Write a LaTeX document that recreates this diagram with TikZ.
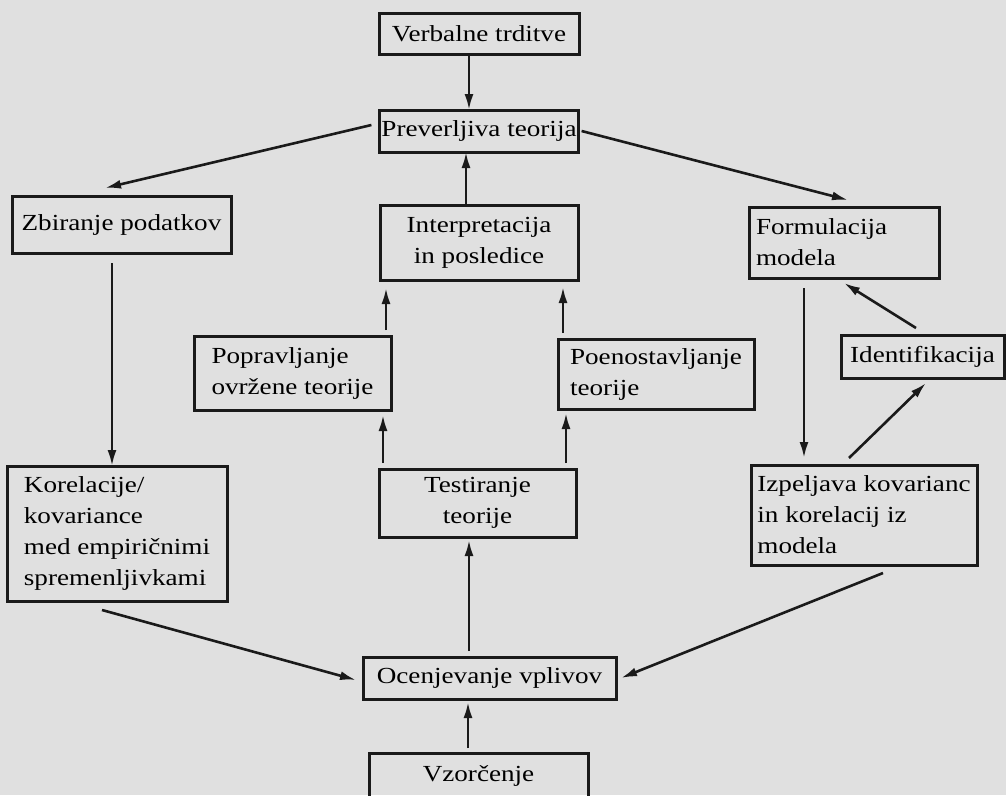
\documentclass[tikz,border=0pt]{standalone}
\usepackage{fontspec}
\setmainfont{Liberation Serif}[FakeStretch=1.18]
\usetikzlibrary{arrows.meta,positioning}
\definecolor{paper}{HTML}{E0E0E0}
\definecolor{ink}{HTML}{1A1A1A}
\tikzset{
  box/.style={draw=ink,line width=3pt,align=left,font=\fontsize{23}{31}\selectfont,
    inner xsep=2pt,inner ysep=3pt,outer sep=0pt},
  cbox/.style={box,align=center},
  arrow/.style={-{Latex[length=16pt,width=9pt]},draw=ink,line width=2.6pt}
}

\begin{document}
\begin{tikzpicture}[x=1pt,y=-1pt]
  \clip (0,0) rectangle (1006,795);
  \fill[paper] (0,0) rectangle (1006,795);
  \node[cbox,minimum width=200pt,minimum height=41pt] (verb) at (479,33.5) {Verbalne trditve};
  \node[cbox,minimum width=198pt,minimum height=42pt] (prev) at (479,131) {Preverljiva teorija};
  \node[cbox,minimum width=219pt,minimum height=57pt] (zbir) at (121.5,224.5) {Zbiranje podatkov};
  \node[cbox,minimum width=198pt,minimum height=75pt] (interp) at (479,242.5) {Interpretacija\\in posledice};
  \node[box,text width=176pt,inner xsep=7pt,minimum height=71pt] (form) at (844,242.5) {Formulacija\\modela};
  \node[box,minimum width=197pt,minimum height=74pt] (poprav) at (292.5,373) {Popravljanje\\ovržene teorije};
  \node[box,minimum width=196pt,minimum height=70pt] (poenos) at (656,374) {Poenostavljanje\\teorije};
  \node[cbox,minimum width=163pt,minimum height=43pt] (ident) at (922.5,356.5) {Identifikacija};
  \node[box,minimum width=220pt,minimum height=135pt] (korel) at (117,533.5) {Korelacije/\\kovariance\\med empiričnimi\\spremenljivkami};
  \node[cbox,minimum width=197pt,minimum height=68pt] (test) at (477.5,503) {Testiranje\\teorije};
  \node[box,minimum width=226pt,minimum height=100pt] (izpel) at (864,515) {Izpeljava kovarianc\\in korelacij iz\\modela};
  \node[cbox,minimum width=253pt,minimum height=42pt] (ocen) at (489.5,678) {Ocenjevanje vplivov};
  \node[cbox,minimum width=219pt,anchor=north,inner ysep=12pt,text depth=30pt] (vzor) at (478.5,753) {Vzorčenje};

  \draw[arrow] ([xshift=-10pt]verb.south) -- ([xshift=-10pt]prev.north);
  \draw[arrow] ([xshift=-13pt]interp.north) -- ([xshift=-13pt]prev.south);
  \draw[arrow] ([xshift=-8pt,yshift=6pt]prev.west) -- ([xshift=-16.5pt,yshift=8pt]zbir.north);
  \draw[arrow] ([xshift=3pt]prev.east) -- ([xshift=4pt,yshift=7pt]form.north);
  \draw[arrow] ([xshift=-9.5pt,yshift=-10pt]zbir.south) -- ([xshift=-5pt]korel.north);
  \draw[arrow] ([xshift=4pt,yshift=6pt]test.north west) -- ([xshift=-8pt,yshift=-5pt]poprav.south east);
  \draw[arrow] ([xshift=-5pt,yshift=6pt]poprav.north east) -- ([xshift=6pt,yshift=-8pt]interp.south west);
  \draw[arrow] ([xshift=-10pt,yshift=6pt]test.north east) -- ([xshift=8pt,yshift=-4pt]poenos.south west);
  \draw[arrow] ([xshift=5pt,yshift=6pt]poenos.north west) -- ([xshift=-15pt,yshift=-7pt]interp.south east);
  \draw[arrow] ([xshift=-40pt,yshift=-10pt]form.south) -- ([xshift=-60pt,yshift=7pt]izpel.north);
  \draw[arrow] ([xshift=-6.5pt,yshift=7pt]ident.north) -- ([yshift=-5pt]form.south);
  \draw[arrow] ([xshift=-15pt,yshift=7pt]izpel.north) -- ([xshift=3.5pt,yshift=-5pt]ident.south);
  \draw[arrow] ([xshift=-15pt,yshift=-9pt]korel.south) -- ([xshift=-7pt,yshift=-2pt]ocen.west);
  \draw[arrow] ([xshift=19pt,yshift=-8pt]izpel.south) -- ([xshift=5pt]ocen.east);
  \draw[arrow] ([xshift=-20.5pt,yshift=6pt]ocen.north) -- ([xshift=-8.5pt,yshift=-3pt]test.south);
  \draw[arrow] ([xshift=-10.5pt,yshift=5pt]vzor.north) -- ([xshift=-21.5pt,yshift=-3pt]ocen.south);
\end{tikzpicture}
\end{document}
